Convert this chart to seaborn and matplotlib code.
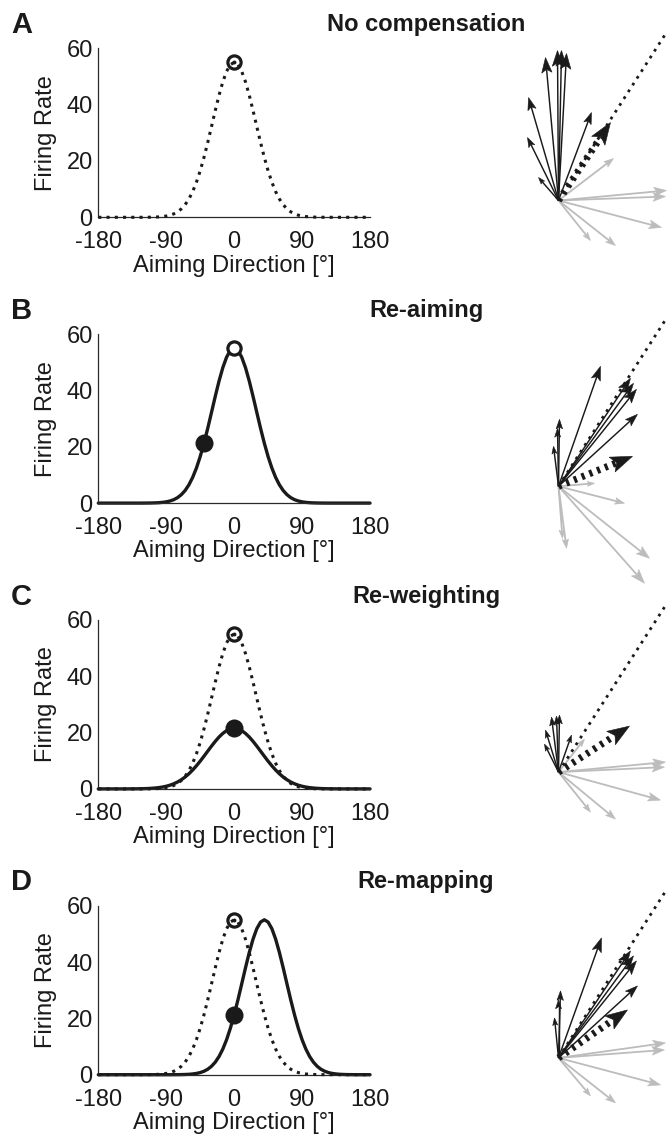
import numpy as np
import pandas as pd
import matplotlib
matplotlib.use("Agg")
import matplotlib.pyplot as plt
import seaborn as sns

sns.set_theme(style="white")
plt.rcParams["font.family"] = ["Liberation Sans", "DejaVu Sans"]

# ---------------- data ----------------
angles = list(range(-180, 181, 5))

rate_base = [0, 0, 0, 0, 0, 0, 0, 0, 0, 0, 0, 0,
             0.01, 0.02, 0.04, 0.08, 0.14, 0.26, 0.45, 0.75, 1.22, 1.94, 2.99, 4.46,
             6.47, 9.11, 12.44, 16.50, 21.25, 26.55, 32.21, 37.93, 43.36, 48.11, 51.83, 54.19,
             55.0,
             54.19, 51.83, 48.11, 43.36, 37.93, 32.21, 26.55, 21.25, 16.50, 12.44, 9.11, 6.47,
             4.46, 2.99, 1.94, 1.22, 0.75, 0.45, 0.26, 0.14, 0.08, 0.04, 0.02, 0.01,
             0, 0, 0, 0, 0, 0, 0, 0, 0, 0, 0, 0]

rate_reweight = [0, 0, 0, 0, 0, 0, 0, 0,
                 0.01, 0.02, 0.03, 0.05, 0.08, 0.13, 0.20, 0.31, 0.45, 0.66, 0.94, 1.32,
                 1.82, 2.45, 3.25, 4.21, 5.36, 6.69, 8.20, 9.84, 11.60, 13.40, 15.19, 16.89,
                 18.43, 19.71, 20.69, 21.29,
                 21.5,
                 21.29, 20.69, 19.71, 18.43, 16.89, 15.19, 13.40, 11.60, 9.84, 8.20, 6.69,
                 5.36, 4.21, 3.25, 2.45, 1.82, 1.32, 0.94, 0.66, 0.45, 0.31, 0.20, 0.13,
                 0.08, 0.05, 0.03, 0.02, 0.01,
                 0, 0, 0, 0, 0, 0, 0, 0]

rate_remap = [0, 0, 0, 0, 0, 0, 0, 0, 0, 0, 0, 0, 0, 0, 0, 0, 0, 0, 0, 0,
              0.01, 0.02, 0.04, 0.08, 0.14, 0.26, 0.45, 0.75, 1.22, 1.94, 2.99, 4.46,
              6.47, 9.11, 12.44, 16.50, 21.25, 26.55, 32.21, 37.93, 43.36, 48.11, 51.83, 54.19,
              55.0,
              54.19, 51.83, 48.11, 43.36, 37.93, 32.21, 26.55, 21.25, 16.50, 12.44, 9.11, 6.47,
              4.46, 2.99, 1.94, 1.22, 0.75, 0.45, 0.26, 0.14, 0.08, 0.04, 0.02, 0.01,
              0, 0, 0, 0]

panel_letters = ["A", "B", "C", "D"]
panel_titles = ["No compensation", "Re-aiming", "Re-weighting", "Re-mapping"]
xticks = [-180, -90, 0, 90, 180]
yticks = [0, 20, 40, 60]

dotted_curves = [rate_base, None, rate_base, rate_base]
solid_curves = [None, rate_base, rate_reweight, rate_remap]
open_point = (0, 55)
filled_points = [None, (-40, 21.4), (0, 21.5), (0, 21.3)]

# population arrows (dx, dy) relative to common origin
black_arrows = [
    [(-13, 143), (-1, 150), (3, 150), (8, 147), (-30, 103), (-31, 63), (-20, 23), (33, 88)],
    [(42, 120), (72, 108), (75, 103), (78, 97), (79, 72), (1, 67), (-1, 58), (-5, 40)],
    [(1, 57), (-2, 56), (-7, 55), (-13, 42), (-14, 28), (13, 37)],
    [(43, 120), (72, 107), (75, 102), (78, 97), (79, 72), (2, 67), (0, 58), (-4, 40)],
]
grey_arrows = [
    [(55, 42), (108, 10), (107, 4), (103, -27), (32, -40), (57, -45)],
    [(36, 3), (66, -17), (91, -72), (86, -97), (8, -62), (4, -52)],
    [(26, 33), (107, 10), (106, 5), (102, -28), (32, -40), (57, -47)],
    [(107, 15), (106, 8), (102, -27), (32, -38), (57, -45)],
]
pop_vectors = [(52, 78), (74, 30), (71, 46), (69, 48)]
target_vector = (106, 165)

# ---------------- layout ----------------
W, H = 667, 1138
fig = plt.figure(figsize=(W / 100, H / 100), dpi=100)
ROW = 285.8
INK = "#1a1a1a"
GREY = "#bcbcbc"


def frac_rect(left_px, top_px, w_px, h_px):
    return [left_px / W, 1 - (top_px + h_px) / H, w_px / W, h_px / H]


def draw_arrow(ax, dx, dy, color, lw, hl, hw, dashed=False):
    v = np.array([dx, dy], dtype=float)
    L = np.hypot(*v)
    u = v / L
    n = np.array([-u[1], u[0]])
    base = v - u * hl
    notch = v - u * hl * 0.78
    shaft_end = notch if not dashed else v - u * hl * 0.8
    if dashed:
        ax.plot([0, shaft_end[0]], [0, shaft_end[1]], color=color, lw=lw,
                linestyle=(0, (0.45, 0.75)), solid_capstyle="butt",
                dash_capstyle="butt", clip_on=False, zorder=5)
    else:
        ax.plot([0, shaft_end[0]], [0, shaft_end[1]], color=color, lw=lw,
                solid_capstyle="butt", clip_on=False, zorder=3)
    pts = np.array([v, base + n * hw / 2, notch, base - n * hw / 2])
    ax.fill(pts[:, 0], pts[:, 1], color=color, lw=0.4, ec=color, clip_on=False,
            zorder=5 if dashed else 3)


for r in range(4):
    top = 48.3 + r * ROW
    ax = fig.add_axes(frac_rect(98.3, top, 271.7, 169.0))

    if dotted_curves[r] is not None:
        sns.lineplot(x=angles, y=dotted_curves[r], ax=ax, color=INK, lw=2.2,
                     linestyle=(0, (1, 1.7)), clip_on=False, zorder=3)
    if solid_curves[r] is not None:
        sns.lineplot(x=angles, y=solid_curves[r], ax=ax, color=INK, lw=2.4,
                     clip_on=False, zorder=2)
    if r == 1:
        ax.plot(*open_point, marker="o", ms=9.5, mfc="white", mec=INK, mew=2.3,
                zorder=6, clip_on=False)
    else:
        ax.plot(*open_point, marker="o", ms=9.5, mfc="none", mec=INK, mew=2.3,
                zorder=6, clip_on=False)
        ax.plot(*open_point, marker="o", ms=2.8, mfc=INK, mec=INK, mew=0,
                zorder=6, clip_on=False)
    if filled_points[r] is not None:
        ax.plot(*filled_points[r], marker="o", ms=13, mfc=INK, mec=INK, mew=0,
                zorder=7, clip_on=False)

    ax.set_xlim(-180, 180)
    ax.set_ylim(0, 60)
    ax.set_xticks(xticks)
    ax.set_yticks(yticks)
    ax.set_xticklabels([str(t) for t in xticks])
    ax.set_yticklabels([str(t) for t in yticks])
    for s in ["top", "right"]:
        ax.spines[s].set_visible(False)
    for s in ["left", "bottom"]:
        ax.spines[s].set_color("#2a2a2a")
        ax.spines[s].set_linewidth(0.9)
    ax.tick_params(axis="both", direction="in", length=3, width=0.8,
                   colors="#2a2a2a", labelsize=17, labelcolor=INK)
    ax.tick_params(axis="x", pad=10)
    ax.tick_params(axis="y", pad=4)
    ax.set_xlabel("Aiming Direction [°]", fontsize=17, color=INK, labelpad=1)
    ax.set_ylabel("Firing Rate", fontsize=17, color=INK, labelpad=7)
    ax.set_facecolor("none")

    fig.text(11 / W, 1 - (33 + r * ROW) / H, panel_letters[r], fontsize=21,
             fontweight="bold", color=INK, va="baseline", ha="left")
    fig.text(426 / W, 1 - (31 + r * ROW) / H, panel_titles[r], fontsize=17,
             fontweight="bold", color=INK, va="baseline", ha="center")

    # vector diagram
    oy = 200.5 + r * ROW
    ox = 558.5
    axv = fig.add_axes(frac_rect(470, oy - 178, W - 470, 258))
    axv.set_xlim(470 - ox, W - ox)
    axv.set_ylim(-80, 178)
    axv.axis("off")
    for dx, dy in grey_arrows[r]:
        L = np.hypot(dx, dy)
        hl = 4.5 + 0.075 * L
        draw_arrow(axv, dx, dy, GREY, 1.3, hl, 0.7 * hl)
    for dx, dy in black_arrows[r]:
        L = np.hypot(dx, dy)
        hl = 4.5 + 0.075 * L
        draw_arrow(axv, dx, dy, INK, 1.05, hl, 0.68 * hl)
    axv.plot([0, target_vector[0]], [0, target_vector[1]], color=INK, lw=2.0,
             linestyle=(0, (1, 1.9)), clip_on=False, zorder=4)
    draw_arrow(axv, pop_vectors[r][0], pop_vectors[r][1], INK, 5.0, 22, 16,
               dashed=True)

fig.savefig("out.png", dpi=100)
